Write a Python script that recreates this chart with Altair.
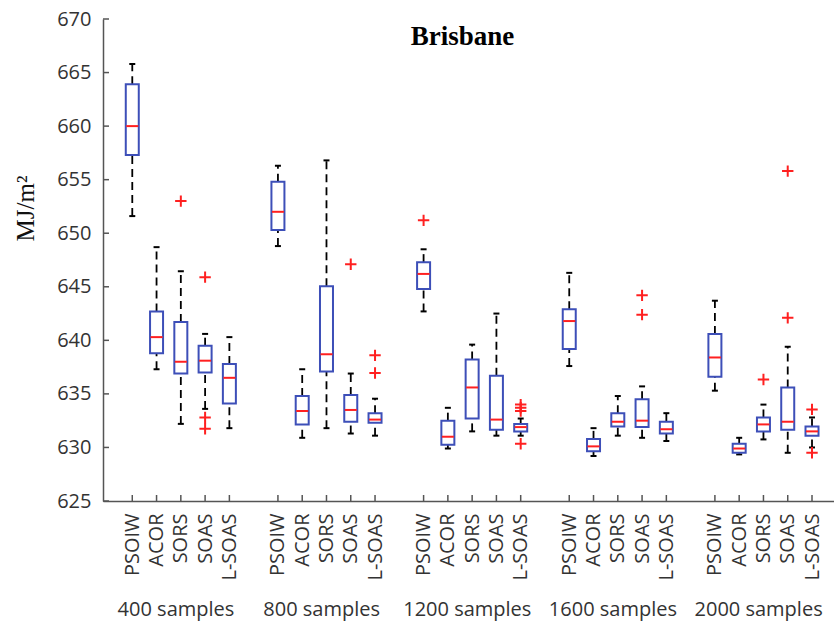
import altair as alt
import pandas as pd

methods = ["PSOIW", "ACOR", "SORS", "SOAS", "L-SOAS"]
groups = ["400 samples", "800 samples", "1200 samples", "1600 samples", "2000 samples"]

# box statistics, ordered group by group, method by method
lo = [651.6, 637.3, 632.2, 633.6, 631.8,
      648.8, 630.9, 631.8, 631.3, 631.1,
      642.7, 629.9, 631.5, 631.1, 631.1,
      637.6, 629.2, 631.1, 630.9, 630.6,
      635.3, 629.35, 630.75, 629.5, 630.0]
q1 = [657.3, 638.8, 636.9, 637.0, 634.1,
      650.3, 632.15, 637.1, 632.4, 632.3,
      644.8, 630.25, 632.7, 631.65, 631.5,
      639.2, 629.65, 631.96, 631.9, 631.3,
      636.6, 629.5, 631.5, 631.65, 631.1]
med = [660.0, 640.3, 638.0, 638.1, 636.5,
       652.0, 633.4, 638.7, 633.5, 632.6,
       646.2, 631.0, 635.6, 632.6, 631.9,
       641.8, 630.1, 632.4, 632.5, 631.7,
       638.4, 629.9, 632.15, 632.4, 631.5]
q3 = [663.9, 642.7, 641.7, 639.5, 637.8,
      654.8, 634.8, 645.05, 634.9, 633.2,
      647.3, 632.5, 638.2, 636.7, 632.2,
      642.9, 630.8, 633.2, 634.5, 632.4,
      640.6, 630.35, 632.8, 635.6, 631.96]
hi = [665.8, 648.7, 646.45, 640.6, 640.3,
      656.3, 637.3, 656.8, 636.9, 634.55,
      648.5, 633.7, 639.6, 642.5, 632.7,
      646.3, 631.8, 634.8, 635.7, 633.2,
      643.7, 630.9, 634.0, 639.4, 632.8]

# outliers
out_group = [0, 0, 0, 0, 1, 1, 1, 2, 2, 2, 2, 2, 3, 3, 4, 4, 4, 4, 4]
out_method = [2, 3, 3, 3, 3, 4, 4, 0, 4, 4, 4, 4, 3, 3, 2, 3, 3, 4, 4]
out_value = [653.0, 645.9, 632.8, 631.75, 647.1, 638.6, 636.95, 651.2, 634.0, 633.7,
             633.4, 630.35, 644.2, 642.4, 636.35, 655.8, 642.1, 633.55, 629.5]

y_ticks = [625, 630, 635, 640, 645, 650, 655, 660, 665, 670]

rows = []
for g in range(len(groups)):
    for m in range(len(methods)):
        i = g * len(methods) + m
        rows.append(dict(pos=6 * g + m + 1, method=methods[m], group=groups[g],
                         lo=lo[i], q1=q1[i], med=med[i], q3=q3[i], hi=hi[i]))
df = pd.DataFrame(rows)
out_df = pd.DataFrame(dict(pos=[6 * g + m + 1 for g, m in zip(out_group, out_method)],
                           value=out_value))
grp_df = pd.DataFrame(dict(pos=[6 * g + 2.8 for g in range(len(groups))], label=groups))
ytick_df = pd.DataFrame(dict(v=y_ticks))

W, H = 731, 482
AX = "#555555"
BLUE = "#3d4fb8"
RED = "#ff2020"

xscale = alt.Scale(domain=[0, 29.7], nice=False, zero=False)
yscale = alt.Scale(domain=[625, 670], nice=False, zero=False)

label_expr = "[" + ",".join(f"'{m}'" for m in methods) + "][(datum.value - 1) % 6]"
x_axis = alt.Axis(values=df["pos"].tolist(), labelExpr=label_expr, labelAngle=270,
                  labelFont="Open Sans", labelFontSize=20, labelColor="#333333",
                  labelPadding=12, ticks=False, tickSize=0, domainColor=AX, domainWidth=1.5,
                  grid=False, title=None, labelOverlap=False, labelBound=False, labelFlush=False)
y_axis = alt.Axis(values=y_ticks, ticks=False, tickSize=0, labelPadding=12,
                  labelFont="Open Sans", labelFontSize=20, labelColor="#333333",
                  domainColor=AX, domainWidth=1.5, grid=False,
                  title="MJ/m²", titleFont="Liberation Serif", titleFontSize=25,
                  titleFontWeight="normal", titleColor="#111111", titleAngle=270,
                  titleX=-78, titleY=189, titleAlign="center", titleBaseline="middle")

X = alt.X("pos:Q", scale=xscale, axis=x_axis)


def Y(field):
    return alt.Y(f"{field}:Q", scale=yscale, axis=y_axis)


base = alt.Chart(df)
whisk_hi = base.mark_rule(strokeDash=[8, 5], color="black", strokeWidth=1.8).encode(
    x=X, y=Y("q3"), y2=alt.Y2("hi"))
whisk_lo = base.mark_rule(strokeDash=[8, 5], color="black", strokeWidth=1.8).encode(
    x=X, y=Y("lo"), y2=alt.Y2("q1"))
cap_hi = base.mark_tick(orient="horizontal", size=6, thickness=2, color="black", opacity=1).encode(
    x=X, y=Y("hi"))
cap_lo = base.mark_tick(orient="horizontal", size=6, thickness=2, color="black", opacity=1).encode(
    x=X, y=Y("lo"))
boxes = base.mark_bar(orient="vertical", size=13, fillOpacity=0, stroke=BLUE, strokeWidth=2).encode(
    x=X, y=Y("q1"), y2=alt.Y2("q3"))
medians = base.mark_tick(orient="horizontal", size=12, thickness=2, color=RED, opacity=1).encode(
    x=X, y=Y("med"))
outliers = alt.Chart(out_df).mark_point(shape="M-1,0L1,0M0,-1L0,1", filled=False, stroke=RED,
                                        strokeWidth=2, size=130, opacity=1).encode(
    x=X, y=Y("value"))
yticks = alt.Chart(ytick_df).mark_rule(color=AX, strokeWidth=1.5).encode(
    y=Y("v"), x=alt.value(0), x2=alt.value(6))
xticks = base.mark_rule(color=AX, strokeWidth=1.5).encode(
    x=X, y=alt.value(H), y2=alt.value(H - 6))
glabels = alt.Chart(grp_df).mark_text(font="Open Sans", fontSize=20, color="#333333",
                                      baseline="middle", align="center").encode(
    x=X, y=alt.value(H + 109), text="label:N")

chart = alt.layer(whisk_hi, whisk_lo, cap_hi, cap_lo, boxes, medians, outliers,
                  yticks, xticks, glabels).properties(
    width=W, height=H,
    padding={"left": 103, "top": 19, "right": 0, "bottom": 120},
    autosize=alt.AutoSizeParams(type="none"),
    title=alt.TitleParams("Brisbane", font="Liberation Serif", fontSize=27, fontWeight="bold",
                          color="black", anchor="middle", frame="group", offset=-27,
                          baseline="alphabetic", dx=-6, dy=36),
    background="white",
).configure_view(stroke=None)

chart.save("out.html", embed_options={"renderer": "svg", "actions": False})
